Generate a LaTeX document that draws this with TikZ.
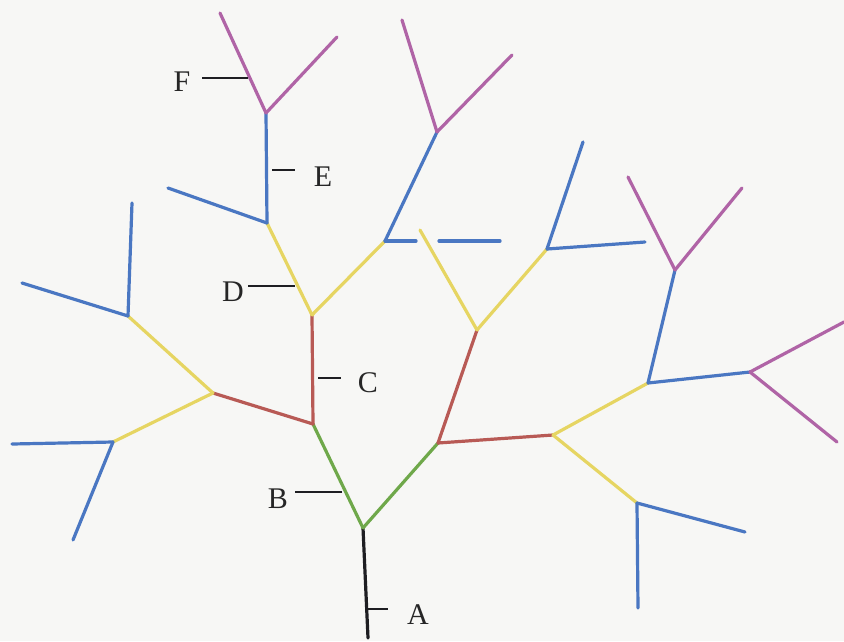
\documentclass[tikz,border=0pt]{standalone}
\usepackage{fontspec}
\setmainfont{Liberation Serif}
\usepackage{xcolor}
\usepackage{tikz}
\usetikzlibrary{calc}
\definecolor{tpaper}{HTML}{F7F7F5}
\definecolor{tblack}{HTML}{1E1E22}
\definecolor{tgreen}{HTML}{6FA84A}
\definecolor{tred}{HTML}{B85A55}
\definecolor{tyellow}{HTML}{E6D562}
\definecolor{tblue}{HTML}{4A77C2}
\definecolor{tmagenta}{HTML}{B064A6}
\tikzset{
  tseg/.style={line width=3.2pt, line cap=round},
  tgenA/.style={tseg, tblack},
  tgenB/.style={tseg, tgreen},
  tgenC/.style={tseg, tred},
  tgenD/.style={tseg, tyellow},
  tgenE/.style={tseg, tblue},
  tgenF/.style={tseg, tmagenta},
  ttick/.style={tblack, line width=1.4pt},
  tlbl/.style={font=\fontsize{30}{34}\selectfont, text=black!85, inner sep=0pt},
}

\begin{document}
\begin{tikzpicture}[x=1pt,y=-1pt]

  \fill[tpaper] (0,0) rectangle (844,641);
  \useasboundingbox (0,0) rectangle (844,641);

  % forks
  \coordinate (a0) at (368,638);
  \coordinate (a1) at (363,528);
  \coordinate (bl) at (313,424);
  \coordinate (br) at (438,443);
  \coordinate (cl) at (312,315);
  \coordinate (cll) at (213,393);
  \coordinate (cr) at (477,330);
  \coordinate (crr) at (553,435);
  \coordinate (d1) at (267,223);
  \coordinate (d2) at (385,241);
  \coordinate (d3) at (128,316);
  \coordinate (d4) at (113,442);
  \coordinate (d5) at (420,230);
  \coordinate (d6) at (547,249);
  \coordinate (d7) at (648,383);
  \coordinate (d8) at (637,503);
  \coordinate (e1) at (266,113);
  \coordinate (e2) at (437,132);
  \coordinate (e7) at (675,270);
  \coordinate (e8) at (750,372);

  % free tips
  \coordinate (e1b) at (168,188);
  \coordinate (e2a) at (416,241);
  \coordinate (e2b) at (439,241);
  \coordinate (e2c) at (500,241);
  \coordinate (e3a) at (132,203);
  \coordinate (e3b) at (22,283);
  \coordinate (e4a) at (12,444);
  \coordinate (e4b) at (73,540);
  \coordinate (e6a) at (583,142);
  \coordinate (e6b) at (645,242);
  \coordinate (e8a) at (638,608);
  \coordinate (e8b) at (745,532);
  \coordinate (f1a) at (220,13);
  \coordinate (f1b) at (337,37);
  \coordinate (f2a) at (402,20);
  \coordinate (f2b) at (512,55);
  \coordinate (f7a) at (628,177);
  \coordinate (f7b) at (742,188);
  \coordinate (f8a) at (844,322);
  \coordinate (f8b) at (837,442);

  % A
  \draw[tgenA] (a0) -- (a1);
  % B
  \draw[tgenB] (a1) -- (bl);
  \draw[tgenB] (a1) -- (br);
  % C
  \draw[tgenC] (bl) -- (cl);
  \draw[tgenC] (bl) -- (cll);
  \draw[tgenC] (br) -- (cr);
  \draw[tgenC] (br) -- (crr);
  % D
  \draw[tgenD] (cl) -- (d1);
  \draw[tgenD] (cl) -- (d2);
  \draw[tgenD] (cll) -- (d3);
  \draw[tgenD] (cll) -- (d4);
  \draw[tgenD] (cr) -- (d5);
  \draw[tgenD] (cr) -- (d6);
  \draw[tgenD] (crr) -- (d7);
  \draw[tgenD] (crr) -- (d8);
  % E
  \draw[tgenE] (d1) -- (e1);
  \draw[tgenE] (d1) -- (e1b);
  \draw[tgenE] (d2) -- (e2);
  \draw[tgenE] (d2) -- (e2a);
  \draw[tgenE] (e2b) -- (e2c);
  \draw[tgenE] (d3) -- (e3a);
  \draw[tgenE] (d3) -- (e3b);
  \draw[tgenE] (d4) -- (e4a);
  \draw[tgenE] (d4) -- (e4b);
  \draw[tgenE] (d6) -- (e6a);
  \draw[tgenE] (d6) -- (e6b);
  \draw[tgenE] (d7) -- (e7);
  \draw[tgenE] (d7) -- (e8);
  \draw[tgenE] (d8) -- (e8a);
  \draw[tgenE] (d8) -- (e8b);
  % F
  \draw[tgenF] (e1) -- (f1a);
  \draw[tgenF] (e1) -- (f1b);
  \draw[tgenF] (e2) -- (f2a);
  \draw[tgenF] (e2) -- (f2b);
  \draw[tgenF] (e7) -- (f7a);
  \draw[tgenF] (e7) -- (f7b);
  \draw[tgenF] (e8) -- (f8a);
  \draw[tgenF] (e8) -- (f8b);

  % labels
  \node[tlbl] (lA) at (418,615) {A};
  \node[tlbl] (lB) at (278,499) {B};
  \node[tlbl] (lC) at (368,383) {C};
  \node[tlbl] (lD) at (233,292) {D};
  \node[tlbl] (lE) at (323,177) {E};
  \node[tlbl] (lF) at (182,82)  {F};

  \coordinate (tA) at (365,609);  \coordinate (uA) at (388,609);
  \coordinate (tB) at (342,492);  \coordinate (uB) at (295,492);
  \coordinate (tC) at (318,378);  \coordinate (uC) at (341,378);
  \coordinate (tD) at (295,286);  \coordinate (uD) at (248,286);
  \coordinate (tE) at (272,170);  \coordinate (uE) at (295,170);
  \coordinate (tF) at (248,78);   \coordinate (uF) at (202,78);

  \draw[ttick] (tA) -- (uA);
  \draw[ttick] (tB) -- (uB);
  \draw[ttick] (tC) -- (uC);
  \draw[ttick] (tD) -- (uD);
  \draw[ttick] (tE) -- (uE);
  \draw[ttick] (tF) -- (uF);

\end{tikzpicture}
\end{document}
